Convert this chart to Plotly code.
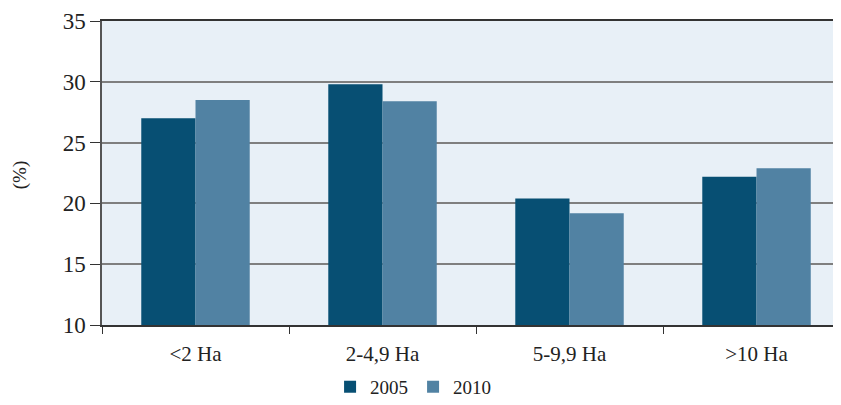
import plotly.graph_objects as go

categories = ["<2 Ha", "2-4,9 Ha", "5-9,9 Ha", ">10 Ha"]
values_2005 = [27.0, 29.8, 20.4, 22.2]
values_2010 = [28.5, 28.4, 19.2, 22.9]

font_family = "Liberation Serif, DejaVu Serif, serif"

fig = go.Figure()
fig.add_trace(go.Bar(x=categories, y=values_2005, name="2005", marker=dict(color="#074F73", line=dict(width=0))))
fig.add_trace(go.Bar(x=categories, y=values_2010, name="2010", marker=dict(color="#5182A3", line=dict(width=0))))

# page body adds an 8px margin, so the figure is 16px smaller than the window
fig.update_layout(
    width=825,
    height=389,
    barmode="group",
    bargap=0.42,
    bargroupgap=0,
    paper_bgcolor="white",
    plot_bgcolor="#E8F0F7",
    margin=dict(l=94, r=0, t=13, b=72),
    font=dict(family=font_family, color="#222222", size=20),
    legend=dict(
        orientation="h",
        x=0.312,
        xanchor="left",
        yref="container",
        y=0.026,
        yanchor="middle",
        font=dict(size=19),
        itemwidth=30,
    ),
)

# y title placed by hand, left of the tick labels
fig.add_annotation(
    text="(%)",
    xref="paper", yref="paper",
    x=-0.112, y=0.493,
    xanchor="center", yanchor="middle",
    textangle=-90,
    showarrow=False,
    font=dict(size=19, color="#222222"),
)

fig.update_xaxes(
    range=[-0.5, 3.409],
    automargin=False,
    showline=True,
    linecolor="#333333",
    linewidth=1.5,
    mirror=True,
    ticks="outside",
    tickson="boundaries",
    ticklen=7,
    tickcolor="#333333",
    tickfont=dict(size=21),
    ticklabelstandoff=9,
    showgrid=False,
)

fig.update_yaxes(
    range=[10, 35],
    dtick=5,
    automargin=False,
    showline=True,
    linecolor="#555555",
    linewidth=1.5,
    ticks="outside",
    ticklen=10,
    tickcolor="#333333",
    tickfont=dict(size=23),
    showgrid=True,
    gridcolor="#7f7f7f",
    gridwidth=1.5,
    zeroline=False,
)

fig.write_html("out.html")
